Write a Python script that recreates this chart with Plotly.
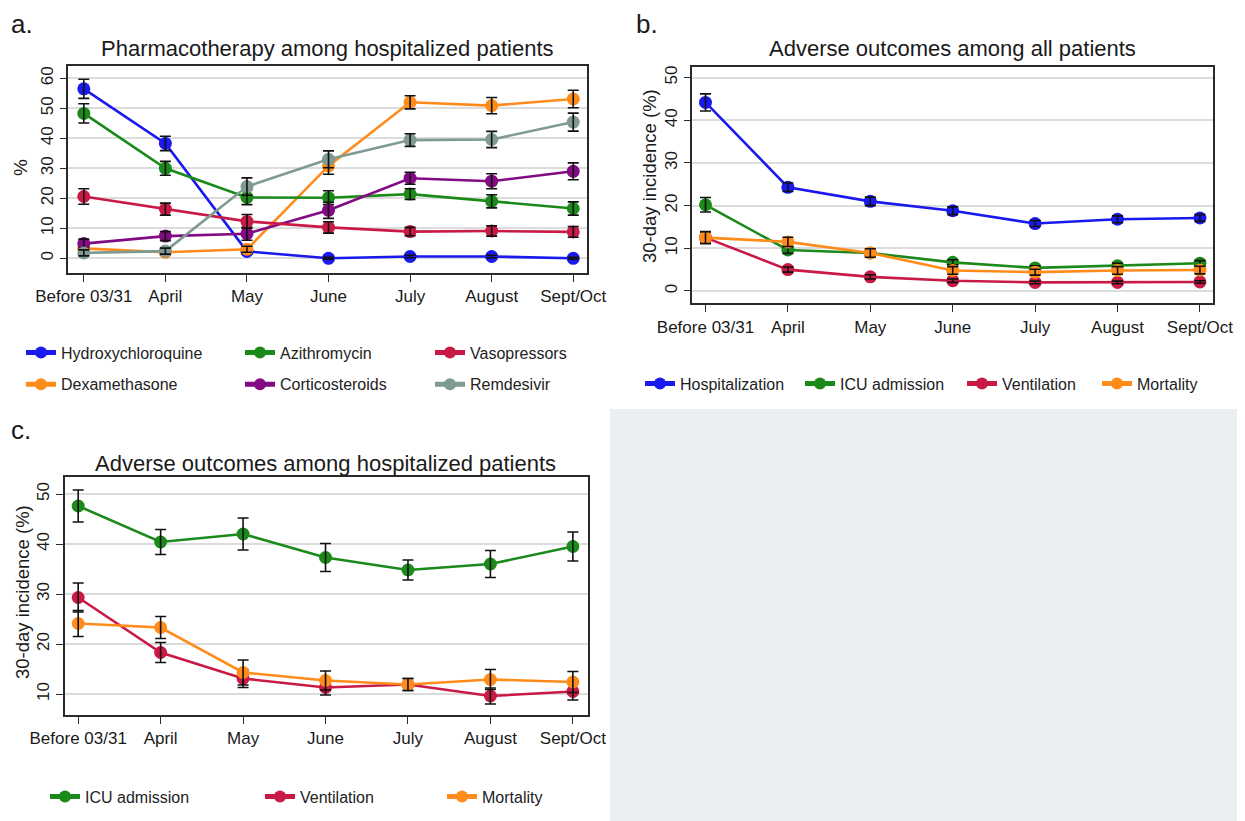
import plotly.graph_objects as go

months = ["Before 03/31", "April", "May", "June", "July", "August", "Sept/Oct"]

# Panel a: pharmacotherapy among hospitalized patients (%)
hcq = [56.5, 38.3, 2.3, 0.0, 0.6, 0.6, 0.0]
hcq_err = [3.2, 2.4, 0.8, 0.3, 0.4, 0.4, 0.3]
azi = [48.3, 30.0, 20.3, 20.2, 21.4, 19.0, 16.6]
azi_err = [3.2, 2.3, 2.4, 2.3, 1.8, 2.2, 2.2]
vaso = [20.6, 16.4, 12.3, 10.3, 8.9, 9.1, 8.8]
vaso_err = [2.6, 2.0, 2.3, 1.9, 1.4, 1.7, 1.8]
dexa = [3.3, 2.0, 3.0, 30.8, 52.0, 50.9, 53.1]
dexa_err = [1.0, 0.8, 1.0, 2.8, 2.2, 2.7, 2.9]
cort = [4.9, 7.4, 8.2, 16.0, 26.7, 25.7, 29.0]
cort_err = [1.5, 1.5, 2.2, 2.7, 2.0, 2.5, 2.8]
remd = [1.8, 2.4, 23.9, 33.0, 39.4, 39.6, 45.4]
remd_err = [1.0, 1.0, 2.9, 2.8, 2.1, 2.7, 3.0]

# Panel b: adverse outcomes among all patients (30-day incidence, %)
b_hosp = [44.2, 24.3, 21.0, 18.8, 15.8, 16.8, 17.1]
b_hosp_err = [2.0, 1.0, 1.0, 0.9, 0.7, 0.8, 0.8]
b_icu = [20.2, 9.6, 8.9, 6.7, 5.4, 5.9, 6.5]
b_icu_err = [1.7, 0.8, 0.8, 0.6, 0.5, 0.6, 0.6]
b_vent = [12.5, 5.0, 3.3, 2.4, 2.0, 2.0, 2.1]
b_vent_err = [1.3, 0.6, 0.5, 0.4, 0.3, 0.3, 0.3]
b_mort = [12.5, 11.5, 8.9, 4.8, 4.4, 4.8, 4.9]
b_mort_err = [1.4, 1.1, 1.0, 0.9, 0.7, 0.9, 0.9]

# Panel c: adverse outcomes among hospitalized patients (30-day incidence, %)
c_icu = [47.6, 40.4, 42.0, 37.3, 34.8, 36.0, 39.5]
c_icu_err = [3.2, 2.5, 3.2, 2.8, 2.0, 2.7, 2.9]
c_vent = [29.3, 18.3, 13.1, 11.3, 11.9, 9.6, 10.5]
c_vent_err = [2.9, 2.0, 1.8, 1.5, 1.2, 1.6, 1.7]
c_mort = [24.1, 23.3, 14.3, 12.7, 11.9, 12.9, 12.4]
c_mort_err = [2.6, 2.2, 2.5, 1.9, 1.2, 2.0, 2.1]

BLUE = "#1a1aee"
GREEN = "#1b8a1b"
RED = "#c81a45"
ORANGE = "#ff8c1a"
PURPLE = "#820a82"
GRAY = "#7f9a92"
FONT = "Liberation Sans, Arial, sans-serif"

# page body has an 8px margin: figure is sized to fill the rest of the window
OFF = 8
W, H = 1245 - OFF, 821 - OFF

fig = go.Figure()

def px_x(p):
    return (p - OFF) / W

def px_y(p):
    return 1 - (p - OFF) / H

def add_series(name, y, err, color, xaxis, yaxis, legend):
    fig.add_trace(go.Scatter(
        x=months, y=y, name=name, mode="lines+markers",
        line=dict(color=color, width=2.6),
        marker=dict(color=color, size=13),
        xaxis=xaxis, yaxis=yaxis, legend=legend,
        legendgroup=name + legend,
    ))
    fig.add_trace(go.Scatter(
        x=months, y=y, mode="markers", showlegend=False, hoverinfo="skip",
        marker=dict(color="rgba(0,0,0,0)", size=2),
        error_y=dict(type="data", array=err, color="#111111", thickness=1.6, width=5.5),
        xaxis=xaxis, yaxis=yaxis,
    ))

# Panel a
add_series("Hydroxychloroquine", hcq, hcq_err, BLUE, "x", "y", "legend")
add_series("Dexamethasone", dexa, dexa_err, ORANGE, "x", "y", "legend")
add_series("Azithromycin", azi, azi_err, GREEN, "x", "y", "legend2")
add_series("Corticosteroids", cort, cort_err, PURPLE, "x", "y", "legend2")
add_series("Vasopressors", vaso, vaso_err, RED, "x", "y", "legend3")
add_series("Remdesivir", remd, remd_err, GRAY, "x", "y", "legend3")

# Panel b
add_series("Hospitalization", b_hosp, b_hosp_err, BLUE, "x2", "y2", "legend4")
add_series("ICU admission", b_icu, b_icu_err, GREEN, "x2", "y2", "legend5")
add_series("Ventilation", b_vent, b_vent_err, RED, "x2", "y2", "legend6")
add_series("Mortality", b_mort, b_mort_err, ORANGE, "x2", "y2", "legend7")

# Panel c
add_series("ICU admission", c_icu, c_icu_err, GREEN, "x3", "y3", "legend8")
add_series("Ventilation", c_vent, c_vent_err, RED, "x3", "y3", "legend9")
add_series("Mortality", c_mort, c_mort_err, ORANGE, "x3", "y3", "legend10")

xcommon = dict(
    type="category", showline=True, mirror=True, linecolor="#2a2a2a", linewidth=1.6,
    ticks="outside", ticklen=7, tickwidth=1.3, tickcolor="#2a2a2a",
    showgrid=False, zeroline=False, automargin=False,
    tickfont=dict(family=FONT, size=17, color="#1a1a1a"),
    categoryorder="array", categoryarray=months,
)
ycommon = dict(
    showline=True, mirror=True, linecolor="#2a2a2a", linewidth=1.6,
    ticks="outside", ticklen=7, tickwidth=1.3, tickcolor="#2a2a2a",
    showgrid=True, gridcolor="#dcdcdc", gridwidth=1.5, zeroline=False, automargin=False,
    tickangle=-90, tickfont=dict(family=FONT, size=17, color="#1a1a1a"),
)

fig.update_layout(
    xaxis=dict(xcommon, domain=[px_x(68.3), px_x(586.7)], range=[-0.19, 6.165], anchor="y"),
    yaxis=dict(ycommon, domain=[px_y(272.7), px_y(66)], range=[-4.8, 64.1],
               tickvals=[0, 10, 20, 30, 40, 50, 60], anchor="x"),
    xaxis2=dict(xcommon, domain=[px_x(692.3), px_x(1212.7)], range=[-0.16, 6.155], anchor="y2"),
    yaxis2=dict(ycommon, domain=[px_y(303.3), px_y(67)], range=[-2.9, 52.5],
                tickvals=[0, 10, 20, 30, 40, 50], anchor="x2"),
    xaxis3=dict(xcommon, domain=[px_x(65), px_x(587.7)], range=[-0.16, 6.18], anchor="y3"),
    yaxis3=dict(ycommon, domain=[px_y(715), px_y(477)], range=[5.8, 53.4],
                tickvals=[10, 20, 30, 40, 50], anchor="x3"),
)

legend_common = dict(
    font=dict(family=FONT, size=16, color="#222222"),
    bgcolor="rgba(0,0,0,0)", borderwidth=0,
    xanchor="left", yanchor="top", itemsizing="constant",
    orientation="v", tracegroupgap=8,
)
LX = 48   # text start offset from legend left edge
LY = 17.5  # first row center offset from legend top
def leg(text_x, row_y):
    return dict(legend_common, x=px_x(text_x - LX), y=px_y(row_y - LY))

fig.update_layout(
    legend=leg(69, 353), legend2=leg(288, 353), legend3=leg(478, 353),
    legend4=leg(688, 384), legend5=leg(848, 384), legend6=leg(1010, 384), legend7=leg(1145, 384),
    legend8=leg(93, 797), legend9=leg(308, 797), legend10=leg(490, 797),
)

# Grey empty panel (bottom right)
fig.add_shape(type="rect", xref="paper", yref="paper",
              x0=px_x(610), x1=px_x(1237), y0=0, y1=px_y(409),
              fillcolor="#eaeff2", line=dict(width=0), layer="below")

ann = []
def text(x, y, s, size, angle=0, xanchor="center"):
    ann.append(dict(x=px_x(x), y=px_y(y), xref="paper", yref="paper", text=s,
                    showarrow=False, textangle=angle, xanchor=xanchor, yanchor="middle",
                    font=dict(family=FONT, size=size, color="#1a1a1a")))

text(9, 24, "a.", 26, xanchor="left")
text(634, 24, "b.", 26, xanchor="left")
text(9, 430, "c.", 26, xanchor="left")
text(327.5, 48, "Pharmacotherapy among hospitalized patients", 22)
text(952.5, 48, "Adverse outcomes among all patients", 22)
text(326, 463, "Adverse outcomes among hospitalized patients", 22)
text(20, 168, "%", 19, angle=-90)
text(650, 176, "30-day incidence (%)", 18.5, angle=-90)
text(22, 592, "30-day incidence (%)", 18.5, angle=-90)

fig.update_layout(
    annotations=ann,
    width=W, height=H, autosize=False,
    margin=dict(l=0, r=0, t=0, b=0),
    paper_bgcolor="white", plot_bgcolor="white",
    font=dict(family=FONT, size=15, color="#1a1a1a"),
)

fig.write_html("out.html")
